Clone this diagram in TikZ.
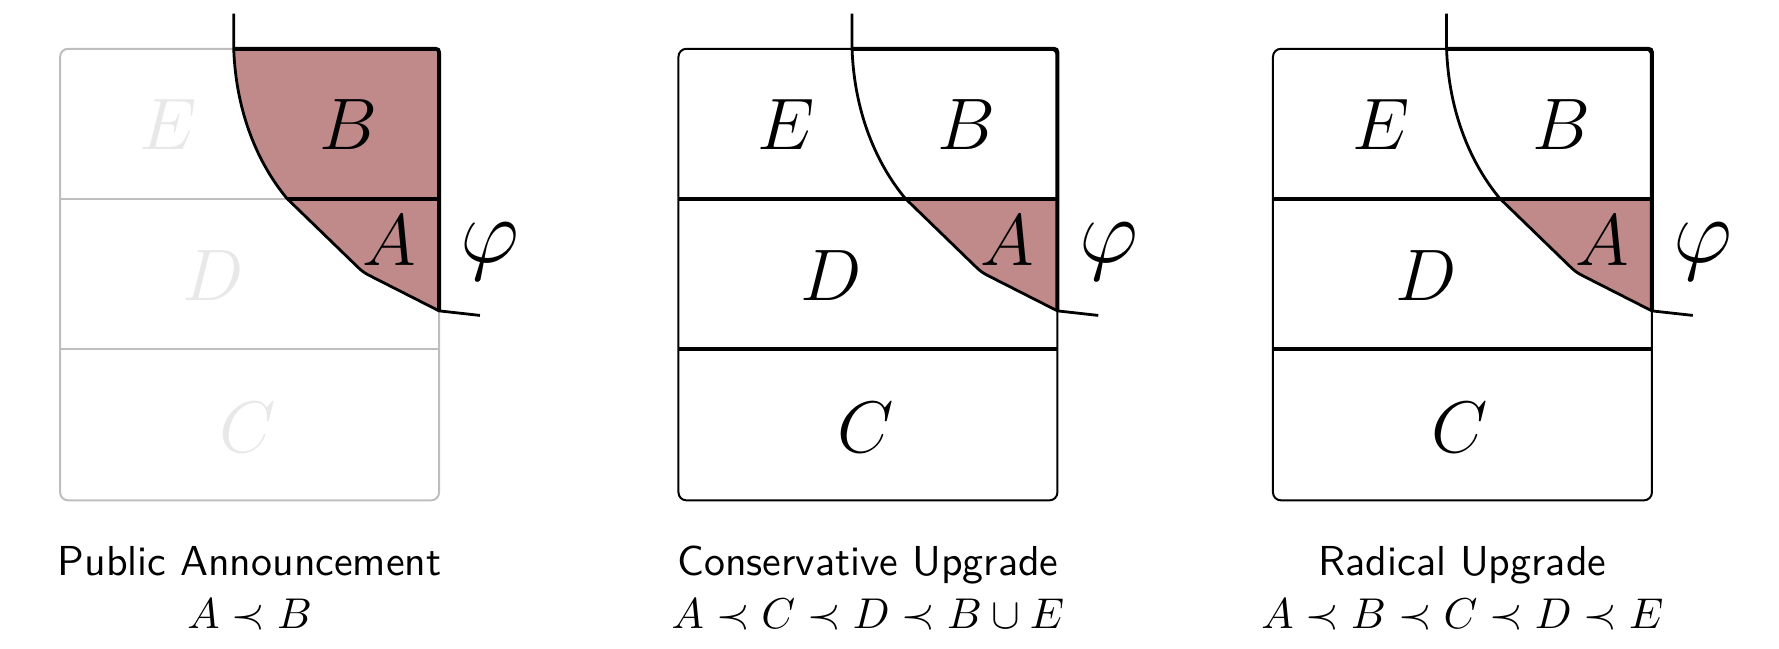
\RequirePackage{fix-cm}
\documentclass[tikz,border=0pt]{standalone}
\usepackage{fontspec}
\definecolor{phired}{RGB}{192,138,138}
\definecolor{faintline}{RGB}{190,190,190}
\definecolor{faintletter}{RGB}{232,232,232}
\newcommand\boxfont{\fontsize{18.3}{22}\selectfont}
\newcommand\phifont{\fontsize{23}{26}\selectfont}
\newcommand\capfont{\fontsize{10.5}{13}\selectfont}
\newcommand\mathcapfont{\fontsize{10.8}{13}\selectfont}
\tikzset{
  phicurveB/.style={insert path={-- (258.4,231.6) .. controls (267,240) .. (277.7,245.4) -- (334,274)}},
  phicurve/.style={insert path={.. controls (155,100) and (175,145) .. (200,175) [phicurveB]}},
  thinbox/.style={line width=0.5pt, rounded corners=0.07cm},
  rowline/.style={line width=1pt},
  curveline/.style={line width=0.7pt},
  boxlabel/.style={font=\boxfont, inner sep=0pt},
  philabel/.style={font=\phifont, inner sep=0pt},
  captext/.style={font=\capfont\sffamily, anchor=base, inner sep=0pt},
  capmath/.style={font=\mathcapfont, anchor=base, inner sep=0pt},
}
\newcommand\upgradepanel[3]{%
  \fill[phired] (200,175) [phicurveB] -- (334,175) -- cycle;
  \draw[thinbox] (0,43) rectangle (334,441);
  \draw[rowline] (0,175) -- (334,175) (0,308) -- (334,308);
  \draw[rowline] (153,43) -- (327,43) .. controls (334,43) .. (334,50) -- (334,274);
  \draw[curveline] (153,12) -- (153,43) [phicurve] -- (370,278);
  \node[boxlabel] (#1E) at (95,110) {$E$};
  \node[boxlabel] (#1B) at (254,110) {$B$};
  \node[boxlabel] (#1A) at (290,212) {$A$};
  \node[boxlabel] (#1D) at (135,243) {$D$};
  \node[boxlabel] (#1C) at (165,377) {$C$};
  \node[philabel] (#1phi) at (379,222) {$\varphi$};
  \node[captext] (#1cap) at (167,507) {#2};
  \node[capmath] (#1ord) at (167,554) {#3};
}
\begin{document}
\begin{tikzpicture}[x=0.01cm,y=-0.01cm]
\useasboundingbox (0,0) rectangle (1568,572);
% Panel 1: public announcement
\begin{scope}[shift={(53,0)}]
  \fill[phired] (153,43) [phicurve] -- (334,50) .. controls (334,43) .. (327,43) -- cycle;
  \draw[thinbox, faintline] (0,43) rectangle (334,441);
  \draw[line width=0.5pt, faintline] (0,175) -- (200,175) (0,308) -- (334,308);
  \draw[rowline] (200,175) -- (334,175);
  \draw[rowline] (153,43) -- (327,43) .. controls (334,43) .. (334,50) -- (334,274);
  \draw[curveline] (153,12) -- (153,43) [phicurve] -- (370,278);
  \node[boxlabel, text=faintletter] (pE) at (95,110) {$E$};
  \node[boxlabel] (pB) at (254,110) {$B$};
  \node[boxlabel] (pA) at (290,212) {$A$};
  \node[boxlabel, text=faintletter] (pD) at (135,243) {$D$};
  \node[boxlabel, text=faintletter] (pC) at (165,377) {$C$};
  \node[philabel] (pphi) at (379,222) {$\varphi$};
  \node[captext] (pcap) at (167,507) {Public Announcement};
  \node[capmath] (pord) at (167,554) {$A \prec B$};
\end{scope}
% Panel 2: conservative upgrade
\begin{scope}[shift={(598,0)}]
  \upgradepanel{c}{Conservative Upgrade}{$A \prec C \prec D \prec B \cup E$}
\end{scope}
% Panel 3: radical upgrade
\begin{scope}[shift={(1122,0)}]
  \upgradepanel{r}{Radical Upgrade}{$A \prec B \prec C \prec D \prec E$}
\end{scope}
\end{tikzpicture}
\end{document}
